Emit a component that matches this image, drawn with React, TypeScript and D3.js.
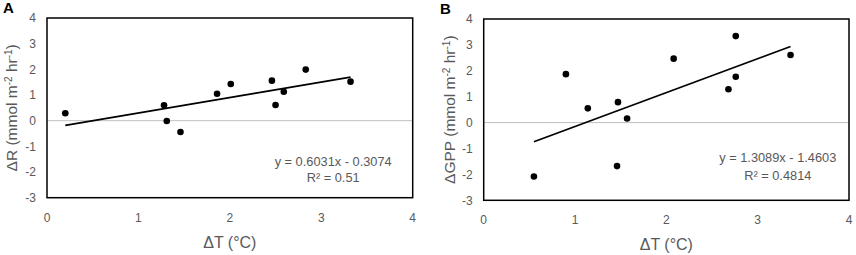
import React from "react";
import * as d3 from "d3";

const xTicks = [0, 1, 2, 3, 4];
const yTicks = [-3, -2, -1, 0, 1, 2, 3, 4];

const rX = [0.2, 1.28, 1.31, 1.46, 1.86, 2.01, 2.46, 2.5, 2.59, 2.83, 3.32];
const rY = [0.29, 0.6, -0.01, -0.44, 1.05, 1.43, 1.56, 0.61, 1.13, 1.99, 1.52];
const rFit = { slope: 0.6031, intercept: -0.3074, x0: 0.2, x1: 3.32 };

const gX = [0.55, 0.9, 1.14, 1.46, 1.47, 1.57, 2.08, 2.68, 2.76, 2.76, 3.36];
const gY = [-2.08, 1.87, 0.55, -1.68, 0.79, 0.16, 2.47, 1.29, 3.34, 1.77, 2.61];
const gFit = { slope: 1.3089, intercept: -1.4603, x0: 0.55, x1: 3.36 };

const FONT = "'Liberation Sans', Arial, sans-serif";
const GREY = "#595959";

type PanelProps = {
  letter: string;
  yLabel: string;
  xs: number[];
  ys: number[];
  fit: { slope: number; intercept: number; x0: number; x1: number };
  eq: string;
  r2: string;
  left: number;
  right: number;
  top: number;
  bottom: number;
  letterX: number;
  yTitleX: number;
  labelX: number;
  eqY: number;
  r2Y: number;
};

function Panel(p: PanelProps) {
  const x = d3.scaleLinear().domain([0, 4]).range([p.left, p.right]);
  const y = d3.scaleLinear().domain([-3, 4]).range([p.bottom, p.top]);
  const line = d3
    .line<number>()
    .x((d) => x(d))
    .y((d) => y(p.fit.slope * d + p.fit.intercept));
  const midY = (p.top + p.bottom) / 2;
  return (
    <g fontFamily={FONT}>
      <text x={p.letterX} y={p.top - 5} fontSize={15} fontWeight="bold" fill="#000">
        {p.letter}
      </text>
      <line x1={p.left} x2={p.right} y1={y(0)} y2={y(0)} stroke="#bfbfbf" strokeWidth={1} />
      <rect
        x={p.left}
        y={p.top}
        width={p.right - p.left}
        height={p.bottom - p.top}
        fill="none"
        stroke="#000"
        strokeWidth={1.5}
      />
      {yTicks.map((t) => (
        <text key={t} x={p.left - 11} y={y(t)} dy="0.35em" textAnchor="end" fontSize={12} fill={GREY}>
          {t}
        </text>
      ))}
      {xTicks.map((t) => (
        <text key={t} x={x(t)} y={p.bottom + 24} textAnchor="middle" fontSize={12} fill={GREY}>
          {t}
        </text>
      ))}
      <text x={(p.left + p.right) / 2} y={p.bottom + 50} textAnchor="middle" fontSize={16} fill={GREY}>
        ΔT (°C)
      </text>
      <text
        transform={`translate(${p.yTitleX},${midY}) rotate(-90)`}
        textAnchor="middle"
        dy="0.35em"
        fontSize={15.5}
        fill={GREY}
      >
        {p.yLabel} (mmol m
        <tspan dy="-5" fontSize={10}>-2</tspan>
        <tspan dy="5"> hr</tspan>
        <tspan dy="-5" fontSize={10}>-1</tspan>
        <tspan dy="5">)</tspan>
      </text>
      <path d={line([p.fit.x0, p.fit.x1]) || ""} stroke="#000" strokeWidth={1.8} fill="none" />
      {p.xs.map((v, i) => (
        <circle key={i} cx={x(v)} cy={y(p.ys[i])} r={3.3} fill="#000" />
      ))}
      <text x={x(p.labelX)} y={y(p.eqY)} textAnchor="middle" fontSize={12.8} fill={GREY}>
        {p.eq}
      </text>
      <text x={x(p.labelX)} y={y(p.r2Y)} textAnchor="middle" fontSize={12.8} fill={GREY}>
        {p.r2}
      </text>
    </g>
  );
}

export default function App() {
  return (
    <svg width={856} height={255} style={{ position: "absolute", left: 0, top: 0, background: "#fff" }}>
      <rect width={856} height={255} fill="#fff" />
      <Panel
        letter="A"
        yLabel="ΔR"
        xs={rX}
        ys={rY}
        fit={rFit}
        eq="y = 0.6031x - 0.3074"
        r2="R² = 0.51"
        left={47}
        right={412.7}
        top={18}
        bottom={197.7}
        letterX={3}
        yTitleX={12}
        labelX={3.13}
        eqY={-1.78}
        r2Y={-2.4}
      />
      <Panel
        letter="B"
        yLabel="ΔGPP"
        xs={gX}
        ys={gY}
        fit={gFit}
        eq="y = 1.3089x - 1.4603"
        r2="R² = 0.4814"
        left={483.7}
        right={849}
        top={19}
        bottom={200.3}
        letterX={440}
        yTitleX={450}
        labelX={3.22}
        eqY={-1.52}
        r2Y={-2.23}
      />
    </svg>
  );
}
